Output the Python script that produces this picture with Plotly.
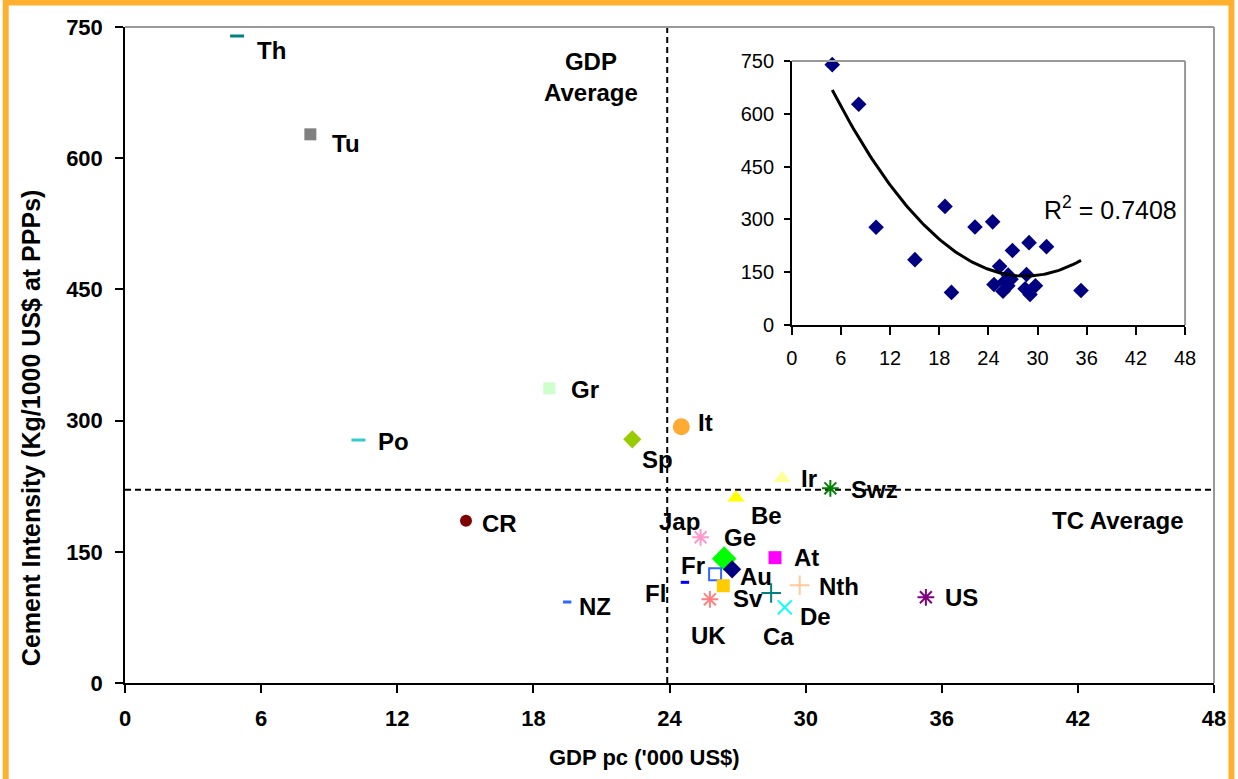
import numpy as np
import plotly.graph_objects as go

# Cement intensity versus GDP per capita, by country
countries = ["Th", "Tu", "Gr", "Po", "Sp", "It", "CR", "NZ", "Ir", "Swz", "Be", "Jap",
             "Ge", "At", "Au", "Fr", "Fl", "Sv", "UK", "Ca", "Nth", "De", "US"]
gdp_pc = [4.94, 8.17, 18.70, 10.29, 22.36, 24.52, 15.03, 19.49, 28.96, 31.09, 26.93, 25.37,
          26.41, 28.65, 26.76, 26.01, 24.68, 26.37, 25.78, 28.48, 29.74, 29.08, 35.30]
cement_intensity = [739.7, 627.3, 336.9, 277.8, 278.6, 293.0, 185.6, 92.6, 234.0, 222.6, 211.8, 166.6,
                    142.1, 143.3, 130.0, 124.3, 115.1, 111.2, 95.7, 102.9, 111.7, 86.5, 98.0]

gdp_average = 23.9
tc_average = 221.0
r_squared_text = "R<sup>2</sup> = 0.7408"

x_ticks = [0, 6, 12, 18, 24, 30, 36, 42, 48]
y_ticks = [0, 150, 300, 450, 600, 750]

# marker style per country: symbol, colour, size, line width
marker_style = {
    "Th":  ("line-ew", "#008080", 10, 3),
    "Tu":  ("square", "#808080", 12, 0),
    "Gr":  ("square", "#CCFFCC", 12, 0),
    "Po":  ("line-ew", "#33CCCC", 10, 3),
    "Sp":  ("diamond", "#99CC00", 14, 0),
    "It":  ("circle", "#FFAA33", 17, 0),
    "CR":  ("circle", "#800000", 12, 0),
    "NZ":  ("line-ew", "#3366FF", 6, 3),
    "Ir":  ("triangle-up", "#FFFF99", 15, 0),
    "Swz": ("asterisk-open", "#008000", 14, 2),
    "Be":  ("triangle-up", "#FFFF00", 15, 0),
    "Jap": ("asterisk-open", "#FF99CC", 14, 2),
    "Ge":  ("diamond", "#00FF00", 19, 0),
    "At":  ("square", "#FF00FF", 13, 0),
    "Au":  ("diamond", "#000080", 14, 0),
    "Fr":  ("square-open", "#3366FF", 12, 2),
    "Fl":  ("line-ew", "#0000FF", 6, 3),
    "Sv":  ("square", "#FFCC00", 13, 0),
    "UK":  ("asterisk-open", "#FF8080", 14, 2),
    "Ca":  ("cross-thin-open", "#008080", 14, 2),
    "Nth": ("cross-thin-open", "#FFCC99", 14, 2),
    "De":  ("x-thin-open", "#00FFFF", 14, 2),
    "US":  ("asterisk-open", "#800080", 14, 2),
}

# label offsets from each marker, in pixels (x right, y down)
label_offset = {
    "Th": (34, 14), "Tu": (36, 9), "Gr": (36, 1), "Po": (35, 1), "Sp": (25, 20),
    "It": (24, -4), "CR": (34, 3), "NZ": (28, 4), "Ir": (27, 0), "Swz": (44, 1),
    "Be": (31, 18), "Jap": (-21, -16), "Ge": (16, -21), "At": (31, 0), "Au": (24, 7),
    "Fr": (-22, -9), "Fl": (-29, 11), "Sv": (25, 13), "UK": (-1, 36), "Ca": (7, 43),
    "Nth": (39, 1), "De": (31, 9), "US": (36, 0),
}

FONT = "Liberation Sans, Arial, sans-serif"
BOLD = dict(family=FONT, size=24, color="black", weight="bold")

fig = go.Figure()

# reference lines (averages)
fig.add_trace(go.Scatter(x=[gdp_average, gdp_average], y=[0, 750], mode="lines",
                         line=dict(color="black", width=2, dash="6px,4px"),
                         hoverinfo="skip", cliponaxis=False))
fig.add_trace(go.Scatter(x=[0, 48], y=[tc_average, tc_average], mode="lines",
                         line=dict(color="black", width=2, dash="6px,4px"),
                         hoverinfo="skip"))

annotations = []
for name, gx, ci in zip(countries, gdp_pc, cement_intensity):
    sym, col, size, lw = marker_style[name]
    open_sym = sym.endswith("open") or sym.startswith("line")
    fig.add_trace(go.Scatter(
        x=[gx], y=[ci], mode="markers", name=name, cliponaxis=False,
        marker=dict(symbol=sym, size=size,
                    color=col,
                    line=dict(color=col, width=lw if open_sym else 0)),
    ))
    dx, dy = label_offset[name]
    annotations.append(dict(x=gx, y=ci, xref="x", yref="y", text=name, showarrow=False,
                            xshift=dx, yshift=-dy, font=BOLD,
                            xanchor="center", yanchor="middle"))

# inset: same data with a second-order polynomial trend
coef = np.polyfit(gdp_pc, cement_intensity, 2)
trend_x = np.linspace(min(gdp_pc), max(gdp_pc), 120)
trend_y = np.polyval(coef, trend_x)

fig.add_trace(go.Scatter(x=gdp_pc, y=cement_intensity, mode="markers", xaxis="x2", yaxis="y2",
                         marker=dict(symbol="diamond", size=12, color="#000080"),
                         cliponaxis=False))
fig.add_trace(go.Scatter(x=trend_x, y=trend_y, mode="lines", xaxis="x2", yaxis="y2",
                         line=dict(color="black", width=3)))

# text annotations
annotations += [
    dict(x=592, y=77, text="GDP<br>Average", showarrow=False, font=BOLD, align="center"),
    dict(x=1120, y=520, text="TC Average", showarrow=False, font=BOLD),
    dict(x=1112, y=208, text=r_squared_text, showarrow=False,
         font=dict(family=FONT, size=25, color="black")),
    dict(x=31, y=428, text="Cement Intensity (Kg/1000 US$ at PPPs)", textangle=-90, showarrow=False,
         font=dict(family=FONT, size=25, color="black", weight="bold")),
    dict(x=645, y=757, text="GDP pc ('000 US$)", showarrow=False,
         font=dict(family=FONT, size=22, color="black", weight="bold")),
]

# place pixel-positioned annotations in paper coordinates
L, R, T, B = 125, 22, 27, 96
W, H = 1238, 779
PW, PH = W - L - R, H - T - B


def px_to_paper(px, py):
    return (px - L) / PW, (H - B - py) / PH


fixed = []
for a in annotations:
    if a.get("xref") == "x":
        fixed.append(a)
        continue
    px, py = px_to_paper(a["x"], a["y"])
    a.update(x=px, y=py, xref="paper", yref="paper", xanchor="center", yanchor="middle")
    fixed.append(a)

# frame lines
bx0, by0 = px_to_paper(5.5, 2.5)
bx1, by1 = px_to_paper(1233.5, 800)
shapes = [
    dict(type="rect", xref="paper", yref="paper", x0=bx0, y0=by1, x1=bx1, y1=by0,
         line=dict(color="#FFB02E", width=6), layer="above"),
    dict(type="line", xref="x domain", yref="y domain", x0=0, x1=1, y0=1, y1=1,
         line=dict(color="#999999", width=2)),
    dict(type="line", xref="x domain", yref="y domain", x0=1, x1=1, y0=0, y1=1,
         line=dict(color="#999999", width=2)),
    dict(type="line", xref="x2 domain", yref="y2 domain", x0=0, x1=1, y0=1, y1=1,
         line=dict(color="#999999", width=2)),
    dict(type="line", xref="x2 domain", yref="y2 domain", x0=1, x1=1, y0=0, y1=1,
         line=dict(color="#999999", width=2)),
]

ix0, iy1 = px_to_paper(793, 61)
ix1, iy0 = px_to_paper(1187, 325)

tick_bold = dict(family=FONT, size=22, color="black", weight="bold")
tick_reg = dict(family=FONT, size=20, color="black")

fig.update_layout(
    width=W, height=H, margin=dict(l=L, r=R, t=T, b=B),
    paper_bgcolor="white", plot_bgcolor="white", showlegend=False,
    annotations=fixed, shapes=shapes,
    xaxis=dict(range=[0, 48], tickvals=x_ticks, showgrid=False, zeroline=False,
               showline=True, linecolor="black", linewidth=1.5,
               ticks="outside", ticklen=8, tickwidth=1.5, tickcolor="black",
               tickfont=tick_bold, ticklabelstandoff=7),
    yaxis=dict(range=[0, 750], tickvals=y_ticks, showgrid=False, zeroline=False,
               showline=True, linecolor="black", linewidth=1.5,
               ticks="outside", ticklen=8, tickwidth=1.5, tickcolor="black",
               tickfont=tick_bold, ticklabelstandoff=8),
    xaxis2=dict(domain=[ix0, ix1], anchor="y2", range=[0, 48], tickvals=x_ticks,
                showgrid=False, zeroline=False, showline=True, linecolor="black", linewidth=1.5,
                ticks="outside", ticklen=8, tickwidth=1.5, tickcolor="black",
                tickfont=tick_reg, ticklabelstandoff=6),
    yaxis2=dict(domain=[iy0, iy1], anchor="x2", range=[0, 750], tickvals=y_ticks,
                showgrid=False, zeroline=False, showline=True, linecolor="black", linewidth=1.5,
                ticks="outside", ticklen=6, tickwidth=1.5, tickcolor="black",
                tickfont=tick_reg, ticklabelstandoff=6),
)

fig.write_html("out.html")
